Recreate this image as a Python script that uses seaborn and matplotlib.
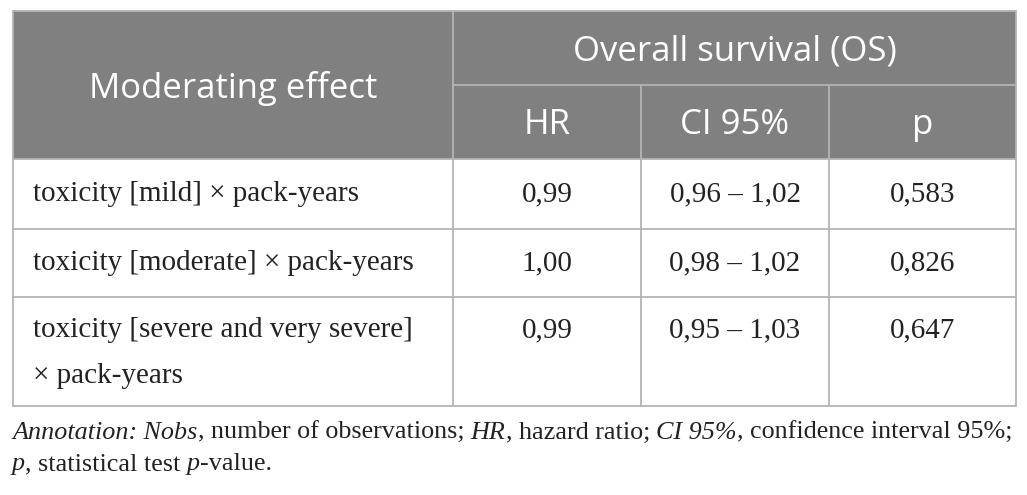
import matplotlib
matplotlib.use("Agg")
import matplotlib.pyplot as plt
import seaborn as sns
from matplotlib.patches import Rectangle

# table content
col_group = "Overall survival (OS)"
row_header = "Moderating effect"
sub_headers = ["HR", "CI 95%", "p"]
effects = [["toxicity [mild] \u00d7 pack-years"],
           ["toxicity [moderate] \u00d7 pack-years"],
           ["toxicity [severe and very severe]", "\u00d7 pack-years"]]
hr = ["0,99", "1,00", "0,99"]
ci95 = ["0,96 \u2013 1,02", "0,98 \u2013 1,02", "0,95 \u2013 1,03"]
pvals = ["0,583", "0,826", "0,647"]
note_line1 = [("Annotation:", True), (" Nobs", True), (", number of observations; ", False),
              ("HR", True), (", hazard ratio; ", False), ("CI 95%", True),
              (", confidence interval 95%;", False)]
note_line2 = [("p", True), (", statistical test ", False), ("p", True), ("-value.", False)]

sns.set_theme(style="white")

W, H = 1027, 495
fig = plt.figure(figsize=(W / 100, H / 100), dpi=100)
ax = fig.add_axes([0, 0, 1, 1])
ax.set_xlim(0, W)
ax.set_ylim(H, 0)
ax.axis("off")

header_col = "#808080"
line_col = "#b4b4b4"
xs = [12.5, 453, 641, 829, 1016]
ys = [11, 85, 159, 229, 297, 406]

# header background
ax.add_patch(Rectangle((xs[0], ys[0]), xs[-1] - xs[0], ys[2] - ys[0], color=header_col, lw=0))

# grid lines
lw = 1.3
ax.plot([xs[0], xs[-1]], [ys[0], ys[0]], color=line_col, lw=lw)
ax.plot([xs[1], xs[-1]], [ys[1], ys[1]], color=line_col, lw=lw)
for y in ys[2:]:
    ax.plot([xs[0], xs[-1]], [y, y], color=line_col, lw=lw)
ax.plot([xs[0], xs[0]], [ys[0], ys[-1]], color=line_col, lw=lw)
ax.plot([xs[-1], xs[-1]], [ys[0], ys[-1]], color=line_col, lw=lw)
ax.plot([xs[1], xs[1]], [ys[0], ys[-1]], color=line_col, lw=lw)
for x in xs[2:4]:
    ax.plot([x, x], [ys[1], ys[-1]], color=line_col, lw=lw)

hfont = dict(family="Open Sans", size=25, color="white")
dy = 3  # header text sits a bit low in its cells
ax.text((xs[0] + xs[1]) / 2, (ys[0] + ys[2]) / 2 + dy, row_header, ha="center", va="center", **hfont)
ax.text((xs[1] + xs[-1]) / 2, (ys[0] + ys[1]) / 2 + dy, col_group, ha="center", va="center", **hfont)
for i, s in enumerate(sub_headers):
    ax.text((xs[i + 1] + xs[i + 2]) / 2, (ys[1] + ys[2]) / 2 + dy, s, ha="center", va="center", **hfont)

bfont = dict(family="Liberation Serif", size=21, color="#222222")
line_gap = 46
for r in range(3):
    top, bot = ys[r + 2], ys[r + 3]
    if len(effects[r]) == 1:
        yc = (top + bot) / 2
    else:
        yc = top + 33
    for k, line in enumerate(effects[r]):
        ax.text(33, yc + k * line_gap, line, ha="left", va="center", **bfont)
    vals = [hr[r], ci95[r], pvals[r]]
    for c, v in enumerate(vals):
        ax.text((xs[c + 1] + xs[c + 2]) / 2, yc, v, ha="center", va="center", **bfont)

# annotation with mixed italics
fig.canvas.draw()
renderer = fig.canvas.get_renderer()
nfont = dict(family="Liberation Serif", size=18.8, color="#222222")


def draw_runs(runs, x0, y0):
    x = x0
    for txt, it in runs:
        t = ax.text(x, y0, txt, ha="left", va="baseline",
                    style="italic" if it else "normal", **nfont)
        bb = t.get_window_extent(renderer=renderer)
        x += bb.width


draw_runs(note_line1, 12, 439)
draw_runs(note_line2, 12, 470)

fig.savefig("out.png", dpi=100)
